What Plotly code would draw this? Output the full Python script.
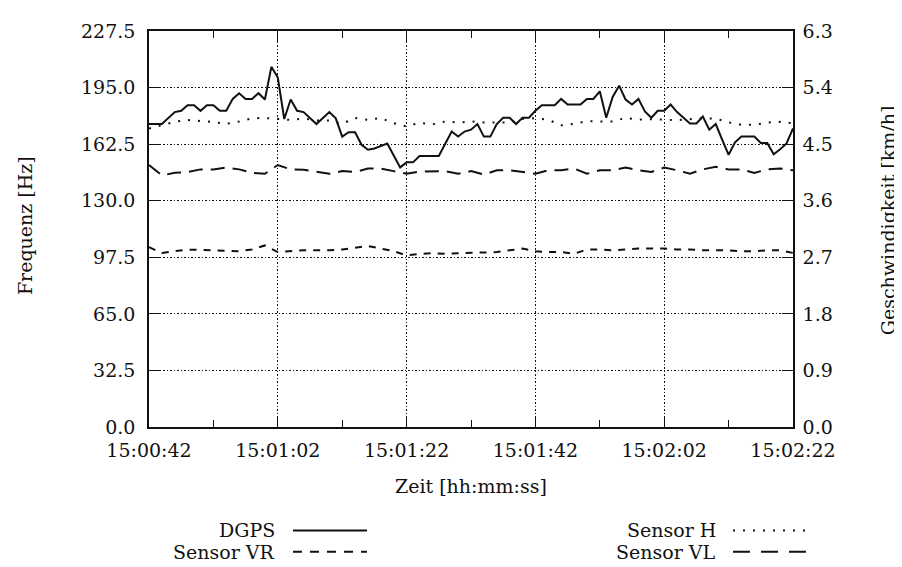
import plotly.graph_objects as go

# ---------------- data ----------------
time_tick_vals = [0, 20, 40, 60, 80, 100]
time_tick_labels = ["15:00:42", "15:01:02", "15:01:22", "15:01:42", "15:02:02", "15:02:22"]
freq_ticks = [0.0, 32.5, 65.0, 97.5, 130.0, 162.5, 195.0, 227.5]
speed_ticks = [0.0, 0.9, 1.8, 2.7, 3.6, 4.5, 5.4, 6.3]

# DGPS speed [km/h], seconds after 15:00:42
dgps_t = [0, 2, 4, 5, 6, 7, 8, 9, 10, 11, 12, 13, 14, 15, 16, 17, 18, 19, 20, 21,
          22, 23, 24, 26, 28, 29, 30, 31, 32, 33, 34, 35, 37, 39, 40, 41, 42, 45, 47, 48,
          49, 50, 51, 52, 53, 54, 55, 56, 57, 58, 59, 60, 61, 63, 64, 65, 67, 68, 69, 70,
          71, 72, 73, 74, 75, 76, 77, 78, 79, 80, 81, 82, 83, 84, 85, 86, 87, 88, 89, 90,
          91, 92, 94, 95, 96, 97, 98, 99, 100]
dgps_kmh = [4.82, 4.82, 5.01, 5.03, 5.12, 5.12, 5.03, 5.12, 5.12, 5.03, 5.03, 5.22, 5.31, 5.22, 5.22, 5.31, 5.21, 5.73, 5.56, 4.90,
            5.21, 5.03, 5.01, 4.82, 5.01, 4.91, 4.62, 4.69, 4.69, 4.49, 4.41, 4.43, 4.51, 4.13, 4.21, 4.21, 4.31, 4.31, 4.70, 4.62,
            4.70, 4.73, 4.82, 4.62, 4.62, 4.82, 4.92, 4.92, 4.82, 4.92, 4.92, 5.03, 5.12, 5.12, 5.22, 5.13, 5.13, 5.22, 5.22, 5.34,
            4.92, 5.25, 5.43, 5.21, 5.13, 5.22, 5.02, 4.92, 5.03, 5.03, 5.13, 5.01, 4.92, 4.83, 4.83, 4.94, 4.73, 4.82, 4.57, 4.33,
            4.53, 4.62, 4.62, 4.52, 4.52, 4.34, 4.42, 4.51, 4.75]

# sensor frequencies [Hz]
sensor_t = [0, 2, 4, 6, 8, 10, 12, 14, 16, 18, 20, 22, 24, 26, 28, 30, 32, 34, 36, 38,
            40, 42, 44, 46, 48, 50, 52, 54, 56, 58, 60, 62, 64, 66, 68, 70, 72, 74, 76, 78,
            80, 82, 84, 86, 88, 90, 92, 94, 96, 98, 100]
sensor_h = [171.5, 173.5, 175.3, 176.4, 176.0, 175.2, 174.2, 175.5, 177.4, 177.5, 177.0, 176.4, 177.2, 176.1, 176.1, 174.2, 177.5, 176.5, 177.5, 174.5,
            172.7, 174.8, 173.8, 175.5, 174.9, 175.6, 175.0, 174.9, 175.0, 177.0, 177.4, 176.5, 173.3, 174.2, 175.7, 175.5, 175.5, 177.6, 176.6, 176.8,
            176.6, 176.3, 176.8, 177.4, 177.2, 175.0, 173.6, 173.6, 174.9, 175.3, 174.5]
sensor_vl = [150.5, 144.5, 146.0, 146.5, 148.0, 148.0, 149.0, 148.0, 146.0, 145.5, 150.5, 148.0, 147.8, 146.5, 145.5, 147.0, 146.5, 148.5, 148.5, 147.0,
             145.5, 146.8, 146.8, 147.0, 145.5, 147.0, 145.0, 147.5, 147.5, 146.5, 145.5, 147.5, 147.5, 148.5, 145.5, 147.5, 147.5, 149.0, 147.5, 146.5,
             149.0, 147.5, 145.5, 148.0, 149.5, 148.0, 148.0, 146.0, 148.0, 148.5, 147.5]
sensor_vr = [103.3, 100.0, 101.0, 101.8, 101.8, 101.5, 101.5, 101.0, 102.0, 104.3, 100.5, 101.2, 101.5, 101.5, 101.5, 102.0, 103.0, 104.0, 102.5, 101.0,
             98.6, 99.5, 99.8, 99.5, 99.8, 100.0, 100.5, 100.5, 101.5, 102.5, 101.0, 100.5, 100.5, 99.5, 102.0, 102.0, 101.5, 102.0, 102.5, 102.5,
             102.5, 102.0, 102.0, 101.5, 101.5, 101.5, 101.0, 101.0, 101.5, 101.5, 100.0]

legend_names = ["DGPS", "Sensor VR", "Sensor H", "Sensor VL"]

# ---------------- styling ----------------
FONT = "DejaVu Serif"
FS = 19
INK = "#111111"
DASH_H = "2px,8px"
DASH_VR = "7px,7px"
DASH_VL = "14px,8px"
GRID_DASH = "1.5px,2px"

# the page body adds an 8px margin, so the figure is 8px smaller than the window
PAGE_OFF = 8
WIN_W, WIN_H = 902, 567
FIG_W, FIG_H = WIN_W - PAGE_OFF, WIN_H - PAGE_OFF

# plot-area edges in window pixels
AX_L, AX_R, AX_T, AX_B = 149, 793, 21, 427
L = AX_L - PAGE_OFF
T = AX_T - PAGE_OFF
R = WIN_W - AX_R
B = WIN_H - AX_B
PW, PH = AX_R - AX_L, AX_B - AX_T

fig = go.Figure()
fig.add_trace(go.Scatter(x=sensor_t, y=sensor_h, mode="lines", name=legend_names[2],
                         line=dict(color=INK, width=2, dash=DASH_H)))
fig.add_trace(go.Scatter(x=sensor_t, y=sensor_vl, mode="lines", name=legend_names[3],
                         line=dict(color=INK, width=2, dash=DASH_VL)))
fig.add_trace(go.Scatter(x=sensor_t, y=sensor_vr, mode="lines", name=legend_names[1],
                         line=dict(color=INK, width=2, dash=DASH_VR)))
fig.add_trace(go.Scatter(x=dgps_t, y=dgps_kmh, mode="lines", name=legend_names[0],
                         yaxis="y2", line=dict(color=INK, width=2)))

axis_common = dict(
    showline=True, linecolor=INK, linewidth=1.6,
    ticks="inside", tickcolor=INK, tickwidth=1.3,
    tickfont=dict(family=FONT, size=FS, color=INK),
    zeroline=False,
)

fig.update_layout(
    width=FIG_W, height=FIG_H,
    margin=dict(l=L, r=R, t=T, b=B, pad=0),
    paper_bgcolor="white", plot_bgcolor="white",
    showlegend=False,
    font=dict(family=FONT, size=FS, color=INK),
    xaxis=dict(range=[0, 100], tickvals=time_tick_vals, ticktext=time_tick_labels,
               ticklen=11, mirror="ticks", showgrid=True, gridcolor=INK, gridwidth=1.3,
               griddash=GRID_DASH, ticklabelstandoff=5,
               minor=dict(ticks="inside", ticklen=7, tickcolor=INK, tickwidth=1.3,
                          dtick=10, tick0=0, showgrid=False),
               **axis_common),
    yaxis=dict(range=[0, 227.5], tickvals=freq_ticks, tickformat=".1f",
               ticklen=11, mirror=True, showgrid=True, gridcolor=INK, gridwidth=1.3,
               griddash=GRID_DASH, ticklabelstandoff=8, **axis_common),
    yaxis2=dict(range=[0, 6.3], tickvals=speed_ticks, tickformat=".1f", overlaying="y",
                side="right", ticklen=11, showgrid=False, ticklabelstandoff=4, **axis_common),
)

def px(xs):
    return (xs - AX_L) / PW
def py(ys):
    return (AX_B - ys) / PH

# axis titles
fig.add_annotation(text="Frequenz [Hz]", xref="paper", yref="paper", x=px(25), y=py(221),
                   textangle=-90, showarrow=False, xanchor="center", yanchor="middle",
                   font=dict(family=FONT, size=FS, color=INK))
fig.add_annotation(text="Geschwindigkeit [km/h]", xref="paper", yref="paper", x=px(888), y=py(215),
                   textangle=-90, showarrow=False, xanchor="center", yanchor="middle",
                   font=dict(family=FONT, size=FS, color=INK))
fig.add_annotation(text="Zeit [hh:mm:ss]", xref="paper", yref="paper", x=px(471), y=py(487),
                   showarrow=False, xanchor="center", yanchor="middle",
                   font=dict(family=FONT, size=FS, color=INK))

# custom legend (text right-aligned, line sample to the right)
legend_rows = [
    (legend_names[0], 277, 533, 293, 367, None),
    (legend_names[1], 277, 555, 293, 367, "9px,8px"),
    (legend_names[2], 718, 533, 733, 810, "2px,8px"),
    (legend_names[3], 718, 555, 733, 810, "17px,11px"),
]
for name, tx, ty, x0, x1, dash in legend_rows:
    fig.add_annotation(text=name, xref="paper", yref="paper", x=px(tx), y=py(ty),
                       showarrow=False, xanchor="right", yanchor="middle",
                       font=dict(family=FONT, size=FS, color=INK))
    line = dict(color=INK, width=2)
    if dash:
        line["dash"] = dash
    fig.add_shape(type="line", xref="paper", yref="paper", x0=px(x0), x1=px(x1),
                  y0=py(ty), y1=py(ty), line=line)

fig.write_html("out.html")
